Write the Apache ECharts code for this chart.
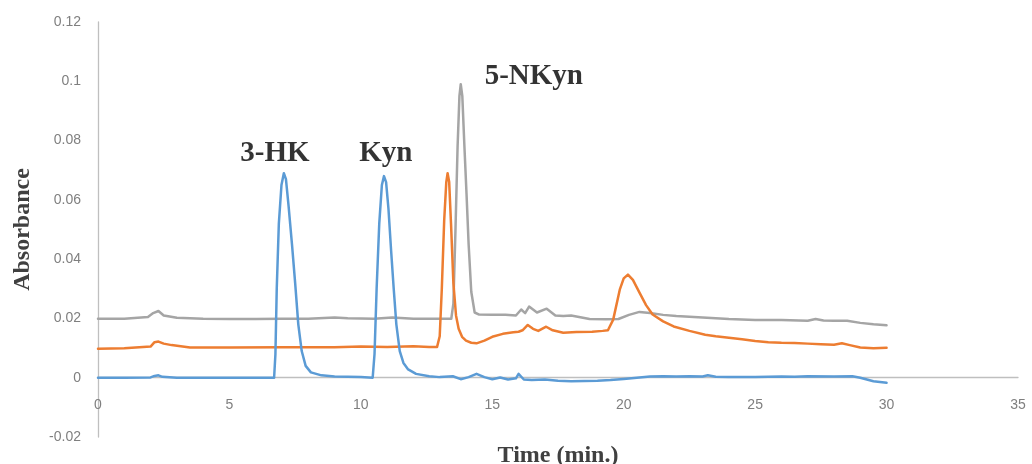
<!DOCTYPE html>
<html>
<head>
<meta charset="utf-8">
<script src="https://cdn.jsdelivr.net/npm/echarts@6/dist/echarts.min.js"></script>
<style>
html,body{margin:0;padding:0;background:#fff;}
#chart{width:1032px;height:464px;}
</style>
</head>
<body>
<div id="chart"></div>
<script>
// ---- Data (time in min, absorbance) ----
var blueT = [0, 1, 2, 2.15, 2.3, 2.45, 3, 4, 5, 6, 6.7, 6.75, 6.8, 6.88, 6.98, 7.07, 7.15, 7.25, 7.38, 7.5, 7.62, 7.75, 7.9, 8.1, 8.5, 9, 10, 10.45, 10.52, 10.6, 10.7, 10.8, 10.88, 10.96, 11.05, 11.15, 11.25, 11.35, 11.48, 11.62, 11.8, 12.1, 12.6, 13, 13.5, 13.8, 14.1, 14.4, 14.7, 15, 15.3, 15.6, 15.9, 16.0, 16.2, 16.5, 17, 17.5, 18, 18.5, 19, 19.5, 20, 20.5, 21, 21.5, 22, 22.5, 23, 23.2, 23.5, 24, 25, 26, 26.5, 27, 28, 28.7, 29, 29.5, 30];
var blueY = [0, 0, 0.0001, 0.0006, 0.0008, 0.0003, 0, 0, 0, 0, 0, 0.008, 0.03, 0.052, 0.065, 0.069, 0.067, 0.058, 0.045, 0.032, 0.018, 0.009, 0.004, 0.0018, 0.0008, 0.0004, 0.0002, 0, 0.008, 0.03, 0.052, 0.065, 0.068, 0.066, 0.057, 0.043, 0.03, 0.018, 0.009, 0.005, 0.0028, 0.0013, 0.0005, 0.0002, 0.0005, -0.0005, 0.0002, 0.0013, 0.0002, -0.0005, 0.0001, -0.0006, -0.0002, 0.0013, -0.0006, -0.0008, -0.0006, -0.001, -0.0012, -0.0011, -0.001, -0.0008, -0.0004, 0, 0.0004, 0.0005, 0.0004, 0.0005, 0.0004, 0.0008, 0.0003, 0.0002, 0.0002, 0.0004, 0.0003, 0.0005, 0.0004, 0.0005, 0, -0.0012, -0.0017];

var orangeT = [0, 1, 2.0, 2.15, 2.3, 2.5, 2.8, 3.5, 5, 7, 9, 10, 11, 12, 12.6, 12.9, 13.0, 13.08, 13.17, 13.25, 13.3, 13.36, 13.43, 13.52, 13.62, 13.72, 13.85, 14.0, 14.2, 14.4, 14.7, 15.0, 15.4, 15.8, 16.0, 16.15, 16.35, 16.55, 16.75, 17.05, 17.3, 17.7, 18.2, 18.8, 19.2, 19.4, 19.6, 19.85, 20.0, 20.16, 20.35, 20.6, 20.85, 21.1, 21.5, 21.9, 22.5, 23.1, 23.5, 24, 24.5, 25, 25.5, 26, 26.5, 27, 27.5, 28, 28.3, 28.6, 29, 29.5, 30];
var orangeY = [0.0098, 0.0099, 0.0105, 0.012, 0.0122, 0.0115, 0.011, 0.0102, 0.0102, 0.0103, 0.0103, 0.0105, 0.0104, 0.0106, 0.0104, 0.0104, 0.014, 0.03, 0.053, 0.066, 0.069, 0.066, 0.052, 0.032, 0.021, 0.0165, 0.0138, 0.0125, 0.0118, 0.0116, 0.0125, 0.0138, 0.0148, 0.0153, 0.0155, 0.016, 0.0178, 0.0165, 0.0158, 0.0172, 0.016, 0.0152, 0.0154, 0.0155, 0.0158, 0.016, 0.0196, 0.0297, 0.0335, 0.0348, 0.033, 0.0287, 0.0245, 0.0213, 0.019, 0.0173, 0.0158, 0.0145, 0.014, 0.0135, 0.013, 0.0124, 0.012, 0.0118, 0.0117, 0.0115, 0.0113, 0.0111, 0.0116, 0.011, 0.0102, 0.0099, 0.0101];

var grayT = [0, 1, 1.9, 2.1, 2.3, 2.5, 3, 4, 5, 6, 7, 8, 9, 9.5, 10.5, 11.2, 12, 13, 13.44, 13.52, 13.6, 13.68, 13.75, 13.8, 13.86, 13.94, 14.02, 14.1, 14.2, 14.33, 14.5, 15, 15.5, 15.9, 16.1, 16.25, 16.4, 16.7, 17.07, 17.4, 17.7, 18.0, 18.3, 18.7, 19.3, 19.8, 20.2, 20.6, 21.0, 21.5, 22, 23, 24, 25, 26, 27, 27.3, 27.6, 28, 28.5, 29, 29.5, 30];
var grayY = [0.0199, 0.0199, 0.0205, 0.0218, 0.0225, 0.021, 0.0202, 0.0199, 0.0198, 0.0198, 0.0199, 0.0199, 0.0203, 0.0201, 0.0199, 0.0203, 0.0199, 0.0199, 0.0199, 0.025, 0.05, 0.078, 0.095, 0.099, 0.095, 0.078, 0.062, 0.045, 0.029, 0.022, 0.0213, 0.0212, 0.0212, 0.021, 0.023, 0.0218, 0.024, 0.022, 0.0233, 0.021, 0.0208, 0.021, 0.0205, 0.0198, 0.0197, 0.0198, 0.0212, 0.0222, 0.0218, 0.0212, 0.0208, 0.0203, 0.0198, 0.0195, 0.0195, 0.0192, 0.0198, 0.0193, 0.0192, 0.0192, 0.0185, 0.018, 0.0177];

var peakNames = ["3-HK", "Kyn", "5-NKyn"];
var peakLabelT = [6.73, 10.95, 16.58];
var peakLabelY = [0.0757, 0.0757, 0.1015];

var xTicks = {min: 0, max: 35, interval: 5};
var yTicks = {min: -0.02, max: 0.12, interval: 0.02};

function pairs(t, y) { return t.map(function (v, i) { return [v, y[i]]; }); }

var chart = echarts.init(document.getElementById('chart'), null, {renderer: 'canvas'});
var lineStyleBase = {width: 2.5, cap: 'round', join: 'round'};
var option = {
  animation: false,
  backgroundColor: '#ffffff',
  grid: {left: 98, right: 14, top: 22, bottom: 27, containLabel: false, outerBoundsMode: 'none'},
  xAxis: {
    type: 'value', min: xTicks.min, max: xTicks.max, interval: xTicks.interval,
    axisLine: {show: true, onZero: true, lineStyle: {color: '#BFBFBF', width: 1.3}},
    axisTick: {show: false},
    splitLine: {show: false},
    axisLabel: {color: '#7F7F7F', fontSize: 14, fontFamily: 'Liberation Sans', margin: -39},
    name: 'Time (min.)', nameLocation: 'middle', nameGap: 7,
    nameTextStyle: {fontFamily: 'Liberation Serif', fontWeight: 'bold', fontSize: 24, color: '#404040'}
  },
  yAxis: {
    type: 'value', min: yTicks.min, max: yTicks.max, interval: yTicks.interval,
    axisLine: {show: true, lineStyle: {color: '#BFBFBF', width: 1.3}},
    axisTick: {show: false},
    splitLine: {show: false},
    axisLabel: {color: '#7F7F7F', fontSize: 14, fontFamily: 'Liberation Sans', margin: 17},
    name: 'Absorbance', nameLocation: 'middle', nameGap: 63,
    nameTextStyle: {fontFamily: 'Liberation Serif', fontWeight: 'bold', fontSize: 24, color: '#404040'}
  },
  series: [
    {type: 'line', name: 'gray', data: pairs(grayT, grayY), showSymbol: false, symbol: 'none',
     lineStyle: Object.assign({color: '#A5A5A5'}, lineStyleBase), itemStyle: {color: '#A5A5A5'}, z: 2},
    {type: 'line', name: 'orange', data: pairs(orangeT, orangeY), showSymbol: false, symbol: 'none',
     lineStyle: Object.assign({color: '#ED7D31'}, lineStyleBase), itemStyle: {color: '#ED7D31'}, z: 3},
    {type: 'line', name: 'blue', data: pairs(blueT, blueY), showSymbol: false, symbol: 'none',
     lineStyle: Object.assign({color: '#5B9BD5'}, lineStyleBase), itemStyle: {color: '#5B9BD5'}, z: 4},
    {type: 'scatter', name: 'labels', symbolSize: 1, itemStyle: {color: 'rgba(0,0,0,0)'},
     data: peakNames.map(function (n, i) { return {name: n, value: [peakLabelT[i], peakLabelY[i]]}; }),
     label: {show: true, position: 'inside', formatter: '{b}', color: '#000000',
             fontFamily: 'Liberation Serif', fontWeight: 'bold', fontSize: 29},
     silent: true, z: 5}
  ]
};
chart.setOption(option);
</script>
</body>
</html>
